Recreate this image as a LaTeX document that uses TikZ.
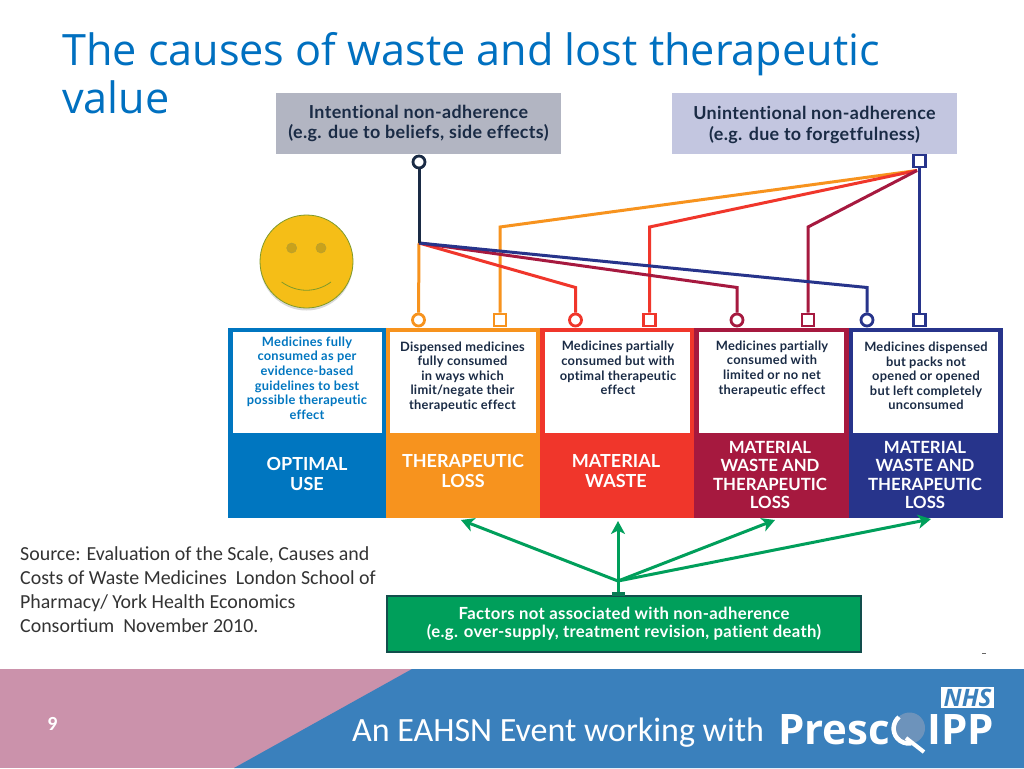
\documentclass[tikz,border=0pt]{standalone}
\usepackage{fontspec}
\setmainfont{Carlito}
\newfontfamily\lato{Lato}
\newfontfamily\latosp{Lato}[LetterSpace=2.0,Ligatures=NoCommon]
\newfontfamily\titlefont{Open Sans}
\newfontfamily\logofont{Open Sans}
\usetikzlibrary{arrows.meta}
\definecolor{cblue}{HTML}{0076C0}
\definecolor{corange}{HTML}{F7931E}
\definecolor{cred}{HTML}{F0362B}
\definecolor{cpurple}{HTML}{A6193F}
\definecolor{cnavy}{HTML}{27348B}
\definecolor{cdark}{HTML}{1A2B45}
\definecolor{cgreen}{HTML}{009F5B}
\definecolor{ctitle}{HTML}{0070C0}
\definecolor{cpink}{HTML}{CB92AB}
\definecolor{cfoot}{HTML}{3A80BC}
\definecolor{cgrey}{HTML}{B2B5C2}
\definecolor{clav}{HTML}{C3C6E0}
\definecolor{csmile}{HTML}{F5BE17}
\definecolor{csmileline}{HTML}{7F9A2A}
\definecolor{ceye}{HTML}{C9A21B}
\definecolor{ceyeline}{HTML}{B8A030}
\definecolor{clens}{HTML}{7396BB}
\tikzset{
  panel/.style={rectangle,inner sep=0pt,minimum height=190pt,fill=#1},
  whitebox/.style={rectangle,inner sep=0pt,minimum height=101pt,fill=white},
  desc/.style={align=center,inner sep=0pt,text=cdark,font=\latosp\bfseries\fontsize{12.85}{14.6}\selectfont},
  head/.style={align=center,inner sep=0pt,text=white,font=\lato\bfseries\fontsize{16.8}{18.4}\selectfont},
  head2/.style={align=center,inner sep=0pt,text=white,font=\lato\bfseries\fontsize{18}{20}\selectfont},
  topbox/.style={rectangle,inner sep=0pt,minimum width=285pt,minimum height=61pt,fill=#1},
  toptext/.style={inner sep=0pt,align=center,text=cdark,font=\latosp\bfseries\fontsize{17.9}{#1}\selectfont},
  circmark/.style={circle,draw=#1,fill=white,line width=2.8pt,inner sep=0pt,minimum size=12pt},
  sqmark/.style={rectangle,draw=#1,fill=white,line width=2.8pt,inner sep=0pt,minimum size=12pt},
  link/.style={draw=#1,line width=3pt,line join=miter},
  greenarrow/.style={draw=cgreen,line width=3pt,-{Stealth[length=13pt,width=14pt,inset=3.5pt]}},
  slidetitle/.style={anchor=base west,inner sep=0pt,text=ctitle,font=\titlefont\fontsize{43.2}{48}\selectfont},
  logotext/.style={inner sep=0pt,text=white,font=\logofont\bfseries\fontsize{42}{44}\selectfont},
}
\begin{document}
\begin{tikzpicture}[x=1pt,y=-1pt]
\useasboundingbox (0,0) rectangle (1024,768);
\fill[white] (0,0) rectangle (1024,768);

% title
\node[slidetitle] (title1) at (62,65) {The causes of waste and lost therapeutic};
\node[slidetitle] (title2) at (62,113) {value};

% top boxes
\node[topbox=cgrey] (intent) at (418.5,123.5) {};
\node[topbox=clav] (unintent) at (814.5,123.5) {};
\node[toptext=20] (intenttext) at (418.5,123) {Intentional non-adherence\\(e.g. due to beliefs, side effects)};
\node[toptext=21] (unintenttext) at (814.5,125) {Unintentional non-adherence\\(e.g. due to forgetfulness)};

% smiley
\fill[black,opacity=.15] (306.5,264) circle (46.5pt);
\filldraw[fill=csmile,draw=csmileline,line width=.8pt] (306.5,261.5) circle (46.5pt);
\filldraw[fill=ceye,draw=ceyeline,line width=.6pt] (291.7,248) circle (5pt);
\filldraw[fill=ceye,draw=ceyeline,line width=.6pt] (321,248) circle (5pt);
\draw[csmileline,line width=.8pt] (281.6,282) .. controls (297,293) and (316,293) .. (331,282);

% panels
\node[panel=cblue,minimum width=158pt] (p1) at (307,423) {};
\node[panel=corange,minimum width=154pt] (p2) at (463,423) {};
\node[panel=cred,minimum width=154pt] (p3) at (617,423) {};
\node[panel=cpurple,minimum width=155pt] (p4) at (771.5,423) {};
\node[panel=cnavy,minimum width=154pt] (p5) at (926,423) {};
\node[whitebox,minimum width=149pt] (w1) at (307.5,382.5) {};
\node[whitebox,minimum width=146pt] (w2) at (463,382.5) {};
\node[whitebox,minimum width=145pt] (w3) at (617.5,382.5) {};
\node[whitebox,minimum width=145pt] (w4) at (771.5,382.5) {};
\node[whitebox,minimum width=145pt] (w5) at (925.5,382.5) {};

\node[desc,text=cblue] (d1) at (307,378) {Medicines fully\\consumed as per\\evidence-based\\guidelines to best\\possible therapeutic\\effect};
\node[desc] (d2) at (462.5,376.5) {Dispensed medicines\\fully consumed\\in ways which\\limit/negate their\\therapeutic effect};
\node[desc] (d3) at (618,368) {Medicines partially\\consumed but with\\optimal therapeutic\\effect};
\node[desc] (d4) at (772,368.5) {Medicines partially\\consumed with\\limited or no net\\therapeutic effect};
\node[desc] (d5) at (926,376) {Medicines dispensed\\but packs not\\opened or opened\\but left completely\\unconsumed};

\node[head2] (h1) at (307,474) {OPTIMAL\\USE};
\node[head2] (h2) at (463,471) {THERAPEUTIC\\LOSS};
\node[head2] (h3) at (616,471) {MATERIAL\\WASTE};
\node[head] (h4) at (770,475) {MATERIAL\\WASTE AND\\THERAPEUTIC\\LOSS};
\node[head] (h5) at (925,475) {MATERIAL\\WASTE AND\\THERAPEUTIC\\LOSS};

% junctions and bends
\coordinate (jl) at (419,243);
\coordinate (jr) at (917,170.5);
\coordinate (bo) at (500,227);
\coordinate (br) at (649.5,227);
\coordinate (bp) at (808,227);
\coordinate (cr) at (575.5,287.5);
\coordinate (cp) at (737,287.5);
\coordinate (cn) at (867,287.5);

% markers
\node[circmark=cdark] (mi) at (419,162) {};
\node[sqmark=cnavy] (mu) at (919.5,161) {};
\node[circmark=corange] (m1) at (418.5,320) {};
\node[sqmark=corange] (m2) at (500,320) {};
\node[circmark=cred] (m3) at (575.5,320) {};
\node[sqmark=cred] (m4) at (649.5,320) {};
\node[circmark=cpurple] (m5) at (737,320) {};
\node[sqmark=cpurple] (m6) at (808,320) {};
\node[circmark=cnavy] (m7) at (867,320) {};
\node[sqmark=cnavy] (m8) at (919.5,320) {};

% connectors
\draw[link=corange] (jl) -- (m1);
\draw[link=corange] (jr) -- (bo) -- (m2);
\draw[link=cred] (jr) -- (br) -- (m4);
\draw[link=cpurple] (jr) -- (bp) -- (m6);
\draw[link=cnavy] (mu) -- (m8);
\draw[link=cred] (jl) -- (cr) -- (m3);
\draw[link=cpurple] (jl) -- (cp) -- (m5);
\draw[link=cnavy] (jl) -- (cn) -- (m7);
\draw[link=cdark] (mi) -- (jl);

% source
\node[anchor=north west,inner sep=0pt,align=left,font=\fontsize{19.9}{24}\selectfont,text=black!80] (src) at (20,546) {Source: Evaluation of the Scale, Causes and\\Costs of Waste Medicines\ \ London School of\\Pharmacy/ York Health Economics\\Consortium\ \ November 2010.};

% green box
\node[rectangle,draw=cdark!70!cgreen,line width=1.6pt,fill=cgreen,inner sep=0pt,minimum width=474pt,minimum height=56pt,align=center,text=white,font=\latosp\bfseries\fontsize{16.7}{18.5}\selectfont] (fac) at (624,624) {Factors not associated with non-adherence\\(e.g. over-supply, treatment revision, patient death)};
\coordinate (fj) at (618,581);
\coordinate (a1) at (461,520);
\coordinate (a2) at (618,521);
\coordinate (a3) at (775,520);
\coordinate (a4) at (931,519);
\draw[line width=3pt,draw=cgreen] (fj) -- (618,595);
\fill[cgreen!70!cdark] (612,592) rectangle (625,596);
\draw[greenarrow] (fj) -- (a1);
\draw[greenarrow] (fj) -- (a2);
\draw[greenarrow] (fj) -- (a3);
\draw[greenarrow] (fj) -- (a4);
\fill[black!60] (982,653) rectangle (986,654);

% footer
\fill[cpink] (0,669) rectangle (1024,768);
\fill[cfoot] (412,669) -- (1024,669) -- (1024,768) -- (234,768) -- cycle;
\node[inner sep=0pt,text=white,font=\bfseries\fontsize{20}{22}\selectfont] (pg) at (52.5,724) {9};
\node[anchor=base west,inner sep=0pt,text=white,font=\fontsize{34}{36}\selectfont] (ev) at (352,741) {An EAHSN Event working with};

% logo
\node[logotext,anchor=base west] (lg1) at (778,744) {Presc};
\node[logotext,anchor=base east] (lg2) at (994,744) {IPP};
\fill[clens,opacity=.9] (909.5,728) circle (15.5pt);
\draw[white,line width=4.5pt] (899,717) arc (130:280:15pt);
\draw[white,line width=4pt] (906,738) -- (924,752);
\node[rectangle,fill=white,inner sep=0pt,minimum width=53pt,minimum height=21pt,text=cfoot,font=\logofont\bfseries\itshape\fontsize{24}{24}\selectfont] (nhs) at (967.5,697.5) {NHS};
\end{tikzpicture}
\end{document}
